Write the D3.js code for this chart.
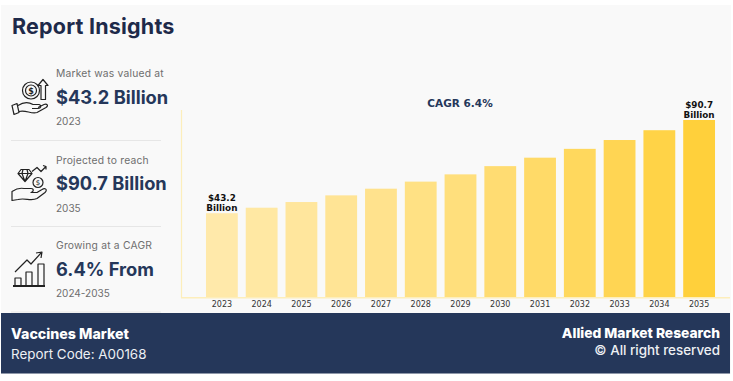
<!DOCTYPE html>
<html>
<head>
<meta charset="utf-8">
<script src="https://cdn.jsdelivr.net/npm/d3@7"></script>
<style>
  html, body { margin: 0; padding: 0; background: #fff; overflow: hidden; }
  text { font-family: Inter, "Open Sans", sans-serif; }
  .tick text, .label { font-family: "DejaVu Sans", sans-serif; }
  .icon path, .icon circle, .icon rect { fill: none; stroke: #222; stroke-width: 1.2; stroke-linejoin: round; }
  .icon text { font-family: "DejaVu Sans", sans-serif; fill: #222; }
</style>
</head>
<body>
<div id="main"></div>
<script>
const years = [2023,2024,2025,2026,2027,2028,2029,2030,2031,2032,2033,2034,2035];
const values = [43.2,46.0,48.9,52.3,55.7,59.3,63.0,67.2,71.5,76.0,80.5,85.5,90.7];
const insightLabels = ['Market was valued at','Projected to reach','Growing at a CAGR'];
const insightValues = ['$43.2 Billion','$90.7 Billion','6.4% From'];
const insightYears = ['2023','2035','2024-2035'];

const width = 733, height = 381;
const navy = '#25375a';

const svg = d3.select('#main').append('svg')
  .attr('width', width)
  .attr('height', height)
  .style('display', 'block');

// card + footer
svg.append('rect').attr('x', 1).attr('y', 5).attr('width', 730).attr('height', 369).attr('fill', '#f9f9f9');
svg.append('rect').attr('x', 1).attr('y', 313).attr('width', 729).attr('height', 60.5).attr('fill', navy);

svg.append('text').attr('x', 12).attr('y', 34)
  .attr('font-size', 21.5).attr('font-weight', 700).attr('letter-spacing', 0.2).attr('fill', '#1e2a4a')
  .text('Report Insights');

// left column
const labelY = [77, 164, 249];
const valueY = [104, 190, 276];
const yearY = [125, 212, 297];
const rows = svg.selectAll('.row').data(insightLabels).enter().append('g').attr('class', 'row');
rows.append('text').attr('x', 56).attr('y', (d, i) => labelY[i])
  .attr('font-size', 10.3).attr('letter-spacing', 0.2).attr('fill', '#6e6e6e').text(d => d);
rows.append('text').attr('x', 56).attr('y', (d, i) => valueY[i])
  .attr('font-size', 18.3).attr('font-weight', 700).attr('fill', navy)
  .text((d, i) => insightValues[i]);
rows.append('text').attr('x', 56).attr('y', (d, i) => yearY[i])
  .attr('font-size', 10).attr('fill', '#6e6e6e').text((d, i) => insightYears[i]);

svg.selectAll('.sep').data([140.5, 226.5, 312]).enter().append('line')
  .attr('x1', 11).attr('x2', 161).attr('y1', d => d).attr('y2', d => d)
  .attr('stroke', '#e6e6e6').attr('stroke-width', 1);

// icons
const ic1 = svg.append('g').attr('class', 'icon').attr('transform', 'translate(11,79.5)');
ic1.append('path').attr('d', 'M1,26 L6,24 L8,33 L3,35 Z M7,26 C13,22 17,22 22,25 L28,25 C31,26 30,29 27,29 L21,29 M8,32 C15,30 20,35 26,33 L35,28 C38,26 36,24 33,25 L27,28');
ic1.append('circle').attr('cx', 20).attr('cy', 11).attr('r', 8.5);
ic1.append('circle').attr('cx', 20).attr('cy', 11).attr('r', 5.5);
ic1.append('text').attr('x', 20).attr('y', 14).attr('text-anchor', 'middle').attr('font-size', 8).attr('font-weight', 700).text('$');
ic1.append('path').attr('d', 'M30,20 L30,6 L27,6 L32,0 L37,6 L34.5,6 L34.5,20 Z');

const ic2 = svg.append('g').attr('class', 'icon').attr('transform', 'translate(11,165.5)');
ic2.append('path').attr('d', 'M1,26 L1,35 L7,34 C14,32 20,36 26,33 L34,27 C37,24 34,22 31,24 L26,27 L20,27 C23,26 23,23 20,23 L13,23 C8,22 4,24 1,26 Z');
ic2.append('path').attr('d', 'M7,8 L10,4 L18,4 L21,8 L14,16 Z M7,8 L21,8 M12,4 L11,8 L14,16 L17,8 L16,4');
ic2.append('circle').attr('cx', 27).attr('cy', 17).attr('r', 5);
ic2.append('text').attr('x', 27).attr('y', 19.5).attr('text-anchor', 'middle').attr('font-size', 7).text('$');
ic2.append('path').attr('d', 'M21,6 L26,2 L30,6 L35,1 M32,0 L35,1 L35,4');

const ic3 = svg.append('g').attr('class', 'icon').attr('transform', 'translate(12,251)');
ic3.append('path').attr('d', 'M1,35 L33,35').style('stroke-width', 2);
ic3.append('path').attr('d', 'M3,35 L3,27 L9,27 L9,35 M14,35 L14,21 L20,21 L20,35 M26,35 L26,13 L32,13 L32,35');
ic3.append('path').attr('d', 'M3,21 L15,9 L19,13 L29,2 M24,2 L30,1 L29,7');

// chart
const x = d3.scaleBand().domain(years).range([202, 719]).paddingInner(0.2).paddingOuter(0.1);
const y = d3.scaleLinear().domain([0, 90.7]).range([298, 120]);
const color = d3.scaleLinear().domain([43.2, 90.7]).range(['#ffe9aa', '#ffd03b']);

svg.selectAll('.bar').data(values).enter().append('rect')
  .attr('class', 'bar')
  .attr('x', (d, i) => x(years[i]))
  .attr('y', d => y(d))
  .attr('width', x.bandwidth())
  .attr('height', d => y(0) - y(d))
  .attr('fill', d => color(d));

const xAxis = svg.append('g')
  .attr('transform', 'translate(0,298)')
  .call(d3.axisBottom(x).tickSize(0).tickPadding(3));
xAxis.select('.domain').remove();
xAxis.selectAll('text').attr('font-size', 8).attr('fill', '#333');

svg.append('line').attr('x1', 181).attr('x2', 730).attr('y1', 297.8).attr('y2', 297.8)
  .attr('stroke', '#fdeebb').attr('stroke-width', 1.6);
svg.append('line').attr('x1', 181.5).attr('x2', 181.5).attr('y1', 110).attr('y2', 298)
  .attr('stroke', '#fdeebb').attr('stroke-width', 1.2);

// end labels
[0, years.length - 1].forEach(i => {
  const cx = x(years[i]) + x.bandwidth() / 2;
  const t = svg.append('text').attr('class', 'label')
    .attr('text-anchor', 'middle').attr('font-size', 8.8).attr('font-weight', 700).attr('fill', '#111');
  t.append('tspan').attr('x', cx).attr('y', y(values[i]) - 12).text('$' + values[i]);
  t.append('tspan').attr('x', cx).attr('y', y(values[i]) - 2.5).text('Billion');
});

svg.append('text').attr('class', 'label').attr('x', 460).attr('y', 107)
  .attr('text-anchor', 'middle').attr('font-size', 10.5).attr('font-weight', 700).attr('fill', navy)
  .text('CAGR 6.4%');

// footer text
svg.append('text').attr('x', 11).attr('y', 338.5).attr('font-size', 14.2).attr('font-weight', 800).attr('fill', '#fff').text('Vaccines Market');
svg.append('text').attr('x', 11).attr('y', 359).attr('font-size', 13.4).attr('fill', '#eef0f4').text('Report Code: A00168');
svg.append('text').attr('x', 720).attr('y', 337.5).attr('text-anchor', 'end').attr('font-size', 13.8).attr('font-weight', 800).attr('fill', '#fff').text('Allied Market Research');
svg.append('text').attr('x', 720).attr('y', 354.5).attr('text-anchor', 'end').attr('font-size', 13.4).attr('font-weight', 500).attr('fill', '#eef0f4').text('© All right reserved');
</script>
</body>
</html>
